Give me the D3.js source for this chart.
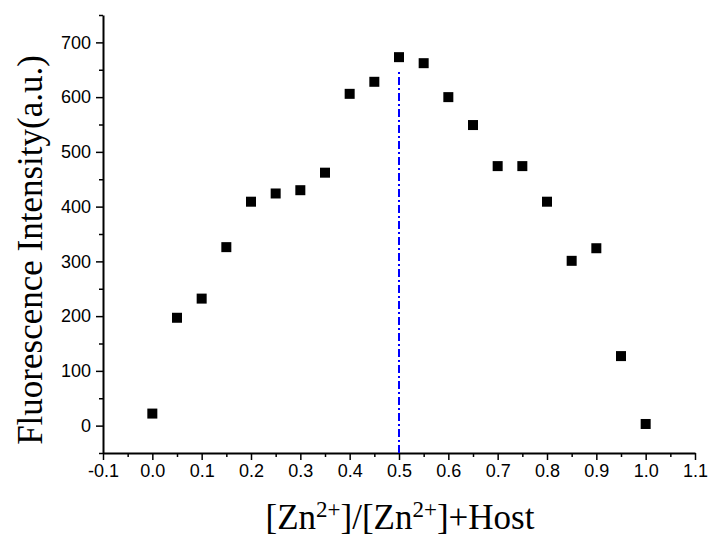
<!DOCTYPE html>
<html>
<head>
<meta charset="utf-8">
<script src="https://cdn.jsdelivr.net/npm/d3@7"></script>
<style>
    body { margin: 0; background: #fff; }
    svg { display: block; }
    .axis text { font-family: "Liberation Sans", Arial, sans-serif; font-size: 18px; fill: #000; }
    .axis path, .axis line { stroke: #000; }
    .axis-title { font-family: "Liberation Serif", "Times New Roman", serif; font-size: 35px; fill: #000; }
</style>
</head>
<body>
<svg id="job-plot" width="712" height="540"></svg>
<script>
const molarFraction = [0.00, 0.05, 0.10, 0.15, 0.20, 0.25, 0.30, 0.35, 0.40, 0.45, 0.50,
    0.55, 0.60, 0.65, 0.70, 0.75, 0.80, 0.85, 0.90, 0.95, 1.00];
const intensity = [22, 197, 232, 326, 409, 424, 430, 462, 606, 628, 673,
    662, 600, 549, 474, 474, 409, 301, 324, 127, 3];

const xTickValues = [-0.1, 0.0, 0.1, 0.2, 0.3, 0.4, 0.5, 0.6, 0.7, 0.8, 0.9, 1.0, 1.1];
const yTickValues = [0, 100, 200, 300, 400, 500, 600, 700];

// vertical guide at the stoichiometric point
const guideX = [0.5, 0.5];
const guideY = [-50, 650];

const setupJobPlot = () => {
    const margin = { top: 15, right: 17, bottom: 87, left: 103 };
    const svg = d3.select("#job-plot");
    const width = +svg.attr("width") - (margin.left + margin.right);
    const height = +svg.attr("height") - (margin.top + margin.bottom);

    const chartArea = svg.append("g")
        .attr("transform", `translate(${margin.left},${margin.top})`);

    const xScale = d3.scaleLinear().domain([-0.1, 1.1]).range([0, width]);
    const yScale = d3.scaleLinear().domain([-50, 750]).range([height, 0]);

    // minor ticks first, so the major axis draws on top
    chartArea.append("g")
        .attr("class", "axis x-minor")
        .attr("transform", `translate(0, ${height})`)
        .call(d3.axisBottom(xScale)
            .tickValues(d3.range(-0.05, 1.1, 0.1))
            .tickSize(4)
            .tickFormat(""))
        .call(g => g.select(".domain").remove());

    chartArea.append("g")
        .attr("class", "axis y-minor")
        .call(d3.axisLeft(yScale)
            .tickValues(d3.range(-50, 751, 100))
            .tickSize(4)
            .tickFormat(""))
        .call(g => g.select(".domain").remove());

    chartArea.append("g")
        .attr("class", "axis x-axis")
        .attr("transform", `translate(0, ${height})`)
        .call(d3.axisBottom(xScale)
            .tickValues(xTickValues)
            .tickFormat(d => d.toFixed(1))
            .tickSize(7)
            .tickSizeOuter(0)
            .tickPadding(4));

    chartArea.append("g")
        .attr("class", "axis y-axis")
        .call(d3.axisLeft(yScale)
            .tickValues(yTickValues)
            .tickSize(7)
            .tickSizeOuter(0)
            .tickPadding(5));

    chartArea.selectAll(".axis .domain").attr("stroke-width", 2);
    chartArea.selectAll(".axis .tick line").attr("stroke-width", 1.5);

    chartArea.append("path")
        .datum(guideX.map((x, i) => [x, guideY[i]]))
        .attr("fill", "none")
        .attr("stroke", "#0000ff")
        .attr("stroke-width", 2)
        .attr("stroke-dasharray", "8,3,2,3")
        .attr("d", d3.line().x(d => xScale(d[0])).y(d => yScale(d[1])));

    const markerSize = 10;
    chartArea.selectAll(".point")
        .data(molarFraction.map((x, i) => ({ x: x, y: intensity[i] })))
        .join("rect")
        .attr("class", "point")
        .attr("x", d => xScale(d.x) - markerSize / 2)
        .attr("y", d => yScale(d.y) - markerSize / 2)
        .attr("width", markerSize)
        .attr("height", markerSize)
        .attr("fill", "#000");

    const xTitle = svg.append("text")
        .attr("class", "axis-title")
        .attr("x", 400)
        .attr("y", 529)
        .attr("text-anchor", "middle");
    xTitle.append("tspan").text("[Zn");
    xTitle.append("tspan").attr("dy", -12).attr("font-size", 23).text("2+");
    xTitle.append("tspan").attr("dy", 12).text("]/[Zn");
    xTitle.append("tspan").attr("dy", -12).attr("font-size", 23).text("2+");
    xTitle.append("tspan").attr("dy", 12).text("]+Host");

    svg.append("text")
        .attr("class", "axis-title")
        .attr("transform", "rotate(-90)")
        .attr("x", -250)
        .attr("y", 42)
        .attr("text-anchor", "middle")
        .text("Fluorescence Intensity(a.u.)");
};

setupJobPlot();
</script>
</body>
</html>
